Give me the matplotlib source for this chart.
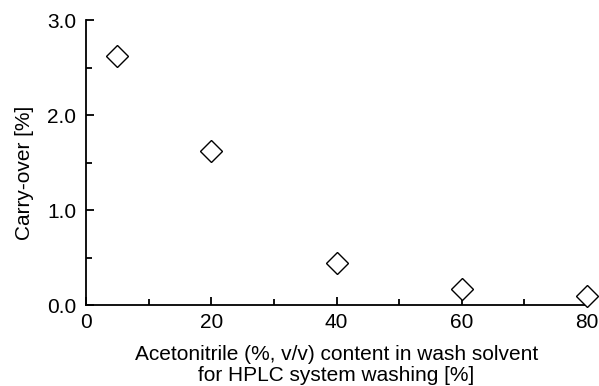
import matplotlib
matplotlib.use("Agg")
import matplotlib.pyplot as plt
from matplotlib.ticker import MultipleLocator

# data
acetonitrile = [5, 20, 40, 60, 80]
carry_over = [2.63, 1.62, 0.44, 0.165, 0.10]

x_ticks = [0, 20, 40, 60, 80]
y_ticks = [0.0, 1.0, 2.0, 3.0]

plt.rcParams['font.family'] = ['Liberation Sans', 'DejaVu Sans']

fig = plt.figure(figsize=(5.99, 3.86), dpi=100)
ax = fig.add_axes([0.1436, 0.2098, 0.98 - 0.1436, 0.947 - 0.2098])

ax.plot(acetonitrile, carry_over, linestyle='none', marker='D', markersize=11.5,
        markerfacecolor='white', markeredgecolor='black', markeredgewidth=1.0,
        clip_on=False, zorder=5)

ax.set_xlim(0, 80)
ax.set_ylim(0, 3.0)
ax.set_xticks(x_ticks)
ax.set_yticks(y_ticks)
ax.set_yticklabels(['%.1f' % v for v in y_ticks])
ax.xaxis.set_minor_locator(MultipleLocator(10))
ax.yaxis.set_minor_locator(MultipleLocator(0.5))

for s in ['top', 'right']:
    ax.spines[s].set_visible(False)
for s in ['left', 'bottom']:
    ax.spines[s].set_linewidth(1.3)

ax.tick_params(which='both', direction='in', width=1.3, labelsize=15, colors='black')
ax.tick_params(which='major', length=6)
ax.tick_params(which='minor', length=4)
ax.tick_params(axis='x', pad=6)
ax.tick_params(axis='y', pad=7)

ax.set_xlabel('Acetonitrile (%, v/v) content in wash solvent\nfor HPLC system washing [%]',
              fontsize=15, labelpad=9, linespacing=1.15)
ax.set_ylabel('Carry-over [%]', fontsize=15)
ax.yaxis.set_label_coords(-0.103, 0.463)

fig.savefig('out.png', dpi=100)
